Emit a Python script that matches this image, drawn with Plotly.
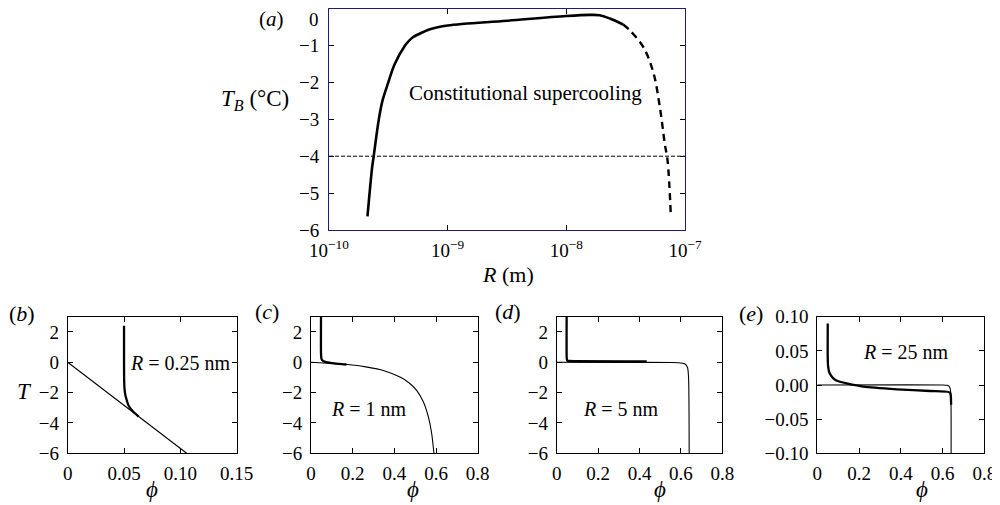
import plotly.graph_objects as go

# ---- panel (a) data ----
R_solid = [2.11e-10, 2.31e-10, 2.38e-10, 2.63e-10, 2.82e-10, 3.16e-10, 3.58e-10, 4.37e-10,
           4.63e-10, 5.13e-10, 6.17e-10, 7.08e-10, 1e-9, 3.16e-9, 1e-8, 1.58e-8, 1.91e-8,
           2.33e-8, 3.01e-8]
T_solid = [-5.63, -4.3, -4.0, -3.0, -2.5, -2.0, -1.5, -1.0,
           -0.9, -0.77, -0.64, -0.56, -0.46, -0.33, -0.2, -0.17, -0.18,
           -0.27, -0.43]
R_dash = [3.01e-8, 3.43e-8, 4.45e-8, 5.40e-8, 6.14e-8, 6.76e-8, 7.13e-8, 7.60e-8]
T_dash = [-0.43, -0.59, -1.04, -1.72, -2.67, -3.67, -4.12, -5.63]
T_limit = -4.0
a_yticks = [-1, -2, -3, -4, -5, -6]

# ---- panel (b) R = 0.25 nm ----
b_thin_phi = [0.0, 0.1056]
b_thin_T = [0.0, -6.0]
b_thick_phi = [0.0500, 0.0500, 0.0501, 0.0504, 0.0510, 0.0522, 0.0540, 0.0580, 0.0630]
b_thick_T = [2.4, 0.0, -1.2, -1.7, -2.1, -2.45, -2.85, -3.25, -3.58]

# ---- panel (c) R = 1 nm ----
c_thin_phi = [0.0, 0.10, 0.187, 0.27, 0.347, 0.427, 0.47, 0.507, 0.539, 0.563, 0.579, 0.590]
c_thin_T = [0.0, -0.08, -0.17, -0.32, -0.54, -0.98, -1.35, -1.85, -2.61, -3.59, -4.68, -6.0]
c_thick_phi = [0.048, 0.048, 0.049, 0.051, 0.056, 0.068, 0.10, 0.135, 0.17]
c_thick_T = [3.0, 0.6, 0.35, 0.2, 0.1, 0.02, -0.06, -0.11, -0.15]

# ---- panel (d) R = 5 nm ----
d_thin_phi = [0.0, 0.30, 0.56, 0.60, 0.620, 0.632, 0.637, 0.640]
d_thin_T = [0.0, -0.01, -0.02, -0.05, -0.12, -0.35, -1.0, -6.0]
d_thick_phi = [0.048, 0.048, 0.049, 0.052, 0.06, 0.435]
d_thick_T = [3.0, 0.4, 0.2, 0.1, 0.08, 0.06]

# ---- panel (e) R = 25 nm ----
e_thin_phi = [0.0, 0.60, 0.622, 0.632, 0.637, 0.640, 0.641]
e_thin_T = [0.0, 0.0, -0.0005, -0.002, -0.006, -0.015, -0.1]
e_thick_phi = [0.050, 0.050, 0.052, 0.058, 0.077, 0.10, 0.141, 0.221, 0.381, 0.541, 0.629, 0.637, 0.640, 0.641]
e_thick_T = [0.090, 0.040, 0.027, 0.018, 0.0098, 0.0055, 0.0024, -0.0024, -0.0063, -0.0088, -0.0102, -0.012, -0.018, -0.029]

FONT = "'Liberation Serif', 'Times New Roman', 'DejaVu Serif', serif"
NAVY = "#1c1c7a"
OFF = 8            # page body margin of the browser
W, H = 1000 - OFF, 505 - OFF

def px(x):
    return (x - OFF) / W

def py(y):
    return 1 - (y - OFF) / H

fig = go.Figure()

fig.add_trace(go.Scatter(x=R_solid, y=T_solid, mode="lines", line=dict(color="black", width=2.6, shape="spline"),
                         xaxis="x", yaxis="y", showlegend=False))
fig.add_trace(go.Scatter(x=R_dash, y=T_dash, mode="lines", line=dict(color="black", width=2.4, dash="7px,5px", shape="spline"),
                         xaxis="x", yaxis="y", showlegend=False))
fig.add_trace(go.Scatter(x=[1e-10, 1e-7], y=[T_limit, T_limit], mode="lines", line=dict(color="black", width=1, dash="4px,2px"),
                         xaxis="x", yaxis="y", showlegend=False))

panels = [
    ("x2", "y2", b_thin_phi, b_thin_T, b_thick_phi, b_thick_T),
    ("x3", "y3", c_thin_phi, c_thin_T, c_thick_phi, c_thick_T),
    ("x4", "y4", d_thin_phi, d_thin_T, d_thick_phi, d_thick_T),
    ("x5", "y5", e_thin_phi, e_thin_T, e_thick_phi, e_thick_T),
]
for xa, ya, tp, tT, kp, kT in panels:
    fig.add_trace(go.Scatter(x=tp, y=tT, mode="lines", line=dict(color="black", width=1.1, shape="spline", smoothing=0.6),
                             xaxis=xa, yaxis=ya, showlegend=False))
    fig.add_trace(go.Scatter(x=kp, y=kT, mode="lines", line=dict(color="black", width=2.3, shape="spline", smoothing=0.6),
                             xaxis=xa, yaxis=ya, showlegend=False))

def common():
    return dict(ticks="inside", ticklen=5, tickwidth=1, tickcolor="black", showgrid=False, zeroline=False,
                showline=True, linecolor="black", linewidth=1, mirror="ticks", automargin=False,
                tickfont=dict(family=FONT, size=19, color="black"))

fig.update_layout(template="none", width=W, height=H, margin=dict(l=0, r=0, t=0, b=0, pad=0),
                  paper_bgcolor="white", plot_bgcolor="white",
                  font=dict(family=FONT, color="black"))

fig.update_layout(
    xaxis=dict(**common(), type="log", range=[-10, -7], domain=[px(329), px(685)], anchor="y",
               tickvals=[1e-10, 1e-9, 1e-8, 1e-7],
               ticktext=["10<sup>−10</sup>", "10<sup>−9</sup>", "10<sup>−8</sup>", "10<sup>−7</sup>"],
               ticklabelstandoff=3),
    yaxis=dict(**common(), range=[-6, 0], domain=[py(230), py(8.6)], anchor="x",
               tickvals=[0] + a_yticks, ticktext=[""] + [f"−{abs(v)}" for v in a_yticks], ticklabelstandoff=5),
)
fig.update_layout(xaxis_linecolor=NAVY, yaxis_linecolor=NAVY)

bx = [(67.7, 236.7), (311, 477.7), (556.7, 722.3), (817.3, 984.3)]
for i, (d0, d1) in enumerate(bx):
    n = i + 2
    xa = dict(**common(), domain=[px(d0), px(d1)], anchor=f"y{n}", ticklabelstandoff=3)
    ya = dict(**common(), domain=[py(453.3), py(316.7)], anchor=f"x{n}", ticklabelstandoff=4)
    if n == 2:
        xa.update(range=[0, 0.15], tickvals=[0, 0.05, 0.10, 0.15], ticktext=["0", "0.05", "0.10", "0.15"])
    else:
        xa.update(range=[0, 0.8], tickvals=[0, 0.2, 0.4, 0.6, 0.8], ticktext=["0", "0.2", "0.4", "0.6", "0.8"])
    if n == 5:
        ya.update(range=[-0.1, 0.1], tickvals=[-0.1, -0.05, 0, 0.05, 0.1], tickformat=".2f")
    else:
        ya.update(range=[-6, 3], tickvals=[-6, -4, -2, 0, 2])
    fig.update_layout({f"xaxis{n}": xa, f"yaxis{n}": ya})

def ann(text, x, y, size=17, xanchor="center"):
    fig.add_annotation(text=text, x=px(x), y=py(y), xref="paper", yref="paper",
                       showarrow=False, xanchor=xanchor, yanchor="middle",
                       font=dict(family=FONT, size=size, color="black"))

# "0" label of the top panel's y axis sits just inside the figure top
ann("0", 321, 19, size=19, xanchor="right")
ann("(<i>a</i>)", 271, 19, size=21)
ann("<i>T</i><sub><i>B</i></sub> (°C)", 291, 100, size=23, xanchor="right")
ann("<i>R</i> (m)", 508, 274, size=22)
ann("Constitutional supercooling", 525, 93, size=21)

ann("(<i>b</i>)", 22, 313, size=22)
ann("(<i>c</i>)", 267, 311, size=22)
ann("(<i>d</i>)", 508, 311, size=22)
ann("(<i>e</i>)", 751, 313, size=22)
ann("<i>T</i>", 24, 391, size=23)
for xc in (152, 413, 660, 922):
    ann("<i>ϕ</i>", xc, 489, size=23)
ann("<i>R</i> = 0.25 nm", 180, 363, size=20)
ann("<i>R</i> = 1 nm", 368, 409, size=20)
ann("<i>R</i> = 5 nm", 620, 409, size=20)
ann("<i>R</i> = 25 nm", 905, 352, size=20)

fig.write_html("out.html")
